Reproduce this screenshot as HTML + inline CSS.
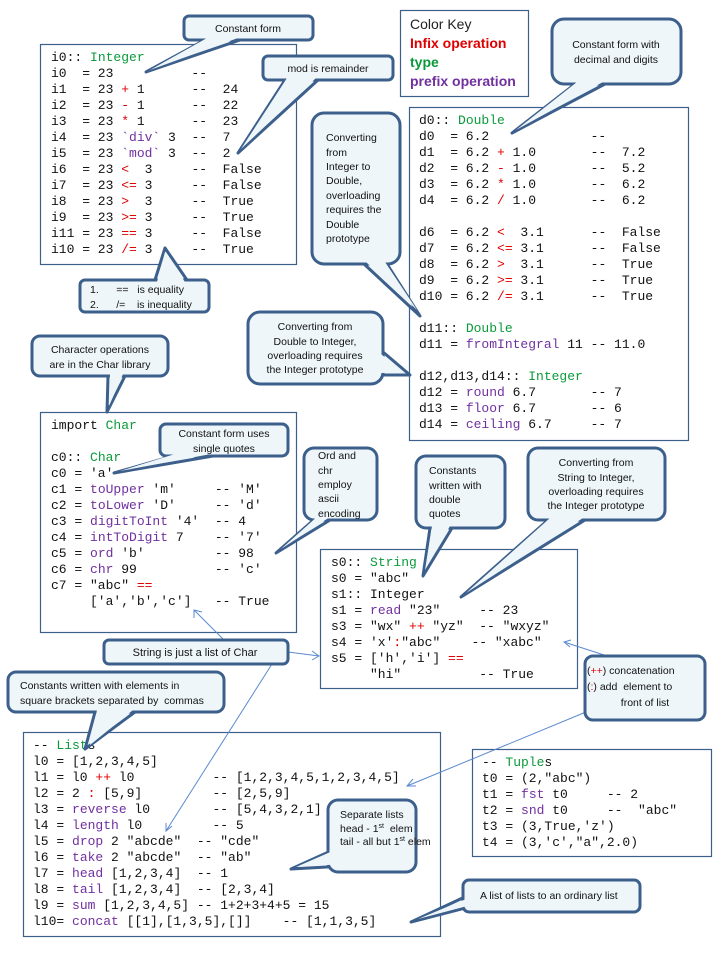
<!DOCTYPE html>
<html><head><meta charset="utf-8"><style>
html,body{margin:0;padding:0;background:#fff;}
svg{display:block}
text{white-space:pre}
.m{font-family:"Liberation Mono",monospace;font-size:13px;fill:#111;}
.s{font-family:"Liberation Sans",sans-serif;font-size:10.5px;fill:#111;}
.g{fill:#0a9a3a}.p{fill:#7030a0}.r{fill:#e00000}
.box{fill:#fff;stroke:#3c5f8c;stroke-width:1.2}
.co{fill:#eef6fa;stroke:#3c5f8c;stroke-width:3;stroke-linejoin:round}
.cf{fill:#eef6fa;stroke:none}
.thin{stroke:#5b8ad0;stroke-width:1;fill:none}
</style></head><body>
<svg width="720" height="960" xmlns="http://www.w3.org/2000/svg">
<rect class="box" x="40.5" y="44.5" width="256" height="220"/>
<rect class="box" x="409.5" y="107.5" width="279" height="333"/>
<rect class="box" x="40.5" y="412.5" width="256" height="220"/>
<rect class="box" x="320.5" y="549.5" width="257" height="139"/>
<rect class="box" x="23.5" y="732.5" width="417" height="204"/>
<rect class="box" x="472.5" y="749.5" width="239" height="107"/>
<rect class="box" x="400.5" y="10.5" width="128" height="86"/>

<g class="m">
<text x="51" y="61">i0:: <tspan class="g">Integer</tspan></text>
<text x="51" y="77">i0  = 23          --</text>
<text x="51" y="93">i1  = 23 <tspan class="r">+</tspan> 1      --  24</text>
<text x="51" y="109">i2  = 23 <tspan class="r">-</tspan> 1      --  22</text>
<text x="51" y="125">i3  = 23 <tspan class="r">*</tspan> 1      --  23</text>
<text x="51" y="141">i4  = 23 <tspan class="p">`div`</tspan> 3  --  7</text>
<text x="51" y="157">i5  = 23 <tspan class="p">`mod`</tspan> 3  --  2</text>
<text x="51" y="173">i6  = 23 <tspan class="r">&lt;</tspan>  3     --  False</text>
<text x="51" y="189">i7  = 23 <tspan class="r">&lt;=</tspan> 3     --  False</text>
<text x="51" y="205">i8  = 23 <tspan class="r">&gt;</tspan>  3     --  True</text>
<text x="51" y="221">i9  = 23 <tspan class="r">&gt;=</tspan> 3     --  True</text>
<text x="51" y="237">i11 = 23 <tspan class="r">==</tspan> 3     --  False</text>
<text x="51" y="253">i10 = 23 <tspan class="r">/=</tspan> 3     --  True</text>
</g>

<g class="m">
<text x="419" y="124">d0:: <tspan class="g">Double</tspan></text>
<text x="419" y="140">d0  = 6.2             --</text>
<text x="419" y="156">d1  = 6.2 <tspan class="r">+</tspan> 1.0       --  7.2</text>
<text x="419" y="172">d2  = 6.2 <tspan class="r">-</tspan> 1.0       --  5.2</text>
<text x="419" y="188">d3  = 6.2 <tspan class="r">*</tspan> 1.0       --  6.2</text>
<text x="419" y="204">d4  = 6.2 <tspan class="r">/</tspan> 1.0       --  6.2</text>
<text x="419" y="236">d6  = 6.2 <tspan class="r">&lt;</tspan>  3.1      --  False</text>
<text x="419" y="252">d7  = 6.2 <tspan class="r">&lt;=</tspan> 3.1      --  False</text>
<text x="419" y="268">d8  = 6.2 <tspan class="r">&gt;</tspan>  3.1      --  True</text>
<text x="419" y="284">d9  = 6.2 <tspan class="r">&gt;=</tspan> 3.1      --  True</text>
<text x="419" y="300">d10 = 6.2 <tspan class="r">/=</tspan> 3.1      --  True</text>
<text x="419" y="332">d11:: <tspan class="g">Double</tspan></text>
<text x="419" y="348">d11 = <tspan class="p">fromIntegral</tspan> 11 -- 11.0</text>
<text x="419" y="380">d12,d13,d14:: <tspan class="g">Integer</tspan></text>
<text x="419" y="396">d12 = <tspan class="p">round</tspan> 6.7       -- 7</text>
<text x="419" y="412">d13 = <tspan class="p">floor</tspan> 6.7       -- 6</text>
<text x="419" y="428">d14 = <tspan class="p">ceiling</tspan> 6.7     -- 7</text>
</g>

<g class="m">
<text x="51" y="429">import <tspan class="g">Char</tspan></text>
<text x="51" y="461">c0:: <tspan class="g">Char</tspan></text>
<text x="51" y="477">c0 = 'a'</text>
<text x="51" y="493">c1 = <tspan class="p">toUpper</tspan> 'm'     -- 'M'</text>
<text x="51" y="509">c2 = <tspan class="p">toLower</tspan> 'D'     -- 'd'</text>
<text x="51" y="525">c3 = <tspan class="p">digitToInt</tspan> '4'  -- 4</text>
<text x="51" y="541">c4 = <tspan class="p">intToDigit</tspan> 7    -- '7'</text>
<text x="51" y="557">c5 = <tspan class="p">ord</tspan> 'b'         -- 98</text>
<text x="51" y="573">c6 = <tspan class="p">chr</tspan> 99          -- 'c'</text>
<text x="51" y="589">c7 = "abc" <tspan class="r">==</tspan></text>
<text x="51" y="605">     ['a','b','c']   -- True</text>
</g>

<g class="m">
<text x="331" y="566">s0:: <tspan class="g">String</tspan></text>
<text x="331" y="582">s0 = "abc"</text>
<text x="331" y="598">s1:: Integer</text>
<text x="331" y="614">s1 = <tspan class="p">read</tspan> "23"     -- 23</text>
<text x="331" y="630">s3 = "wx" <tspan class="r">++</tspan> "yz"  -- "wxyz"</text>
<text x="331" y="646">s4 = 'x'<tspan class="r">:</tspan>"abc"    -- "xabc"</text>
<text x="331" y="662">s5 = ['h','i'] <tspan class="r">==</tspan></text>
<text x="331" y="678">     "hi"          -- True</text>
</g>

<g class="m">
<text x="33" y="749">-- <tspan class="g">List</tspan>s</text>
<text x="33" y="765">l0 = [1,2,3,4,5]</text>
<text x="33" y="781">l1 = l0 <tspan class="r">++</tspan> l0          -- [1,2,3,4,5,1,2,3,4,5]</text>
<text x="33" y="797">l2 = 2 <tspan class="r">:</tspan> [5,9]         -- [2,5,9]</text>
<text x="33" y="813">l3 = <tspan class="p">reverse</tspan> l0        -- [5,4,3,2,1]</text>
<text x="33" y="829">l4 = <tspan class="p">length</tspan> l0         -- 5</text>
<text x="33" y="845">l5 = <tspan class="p">drop</tspan> 2 "abcde"  -- "cde"</text>
<text x="33" y="861">l6 = <tspan class="p">take</tspan> 2 "abcde"  -- "ab"</text>
<text x="33" y="877">l7 = <tspan class="p">head</tspan> [1,2,3,4]  -- 1</text>
<text x="33" y="893">l8 = <tspan class="p">tail</tspan> [1,2,3,4]  -- [2,3,4]</text>
<text x="33" y="909">l9 = <tspan class="p">sum</tspan> [1,2,3,4,5] -- 1+2+3+4+5 = 15</text>
<text x="33" y="925">l10= <tspan class="p">concat</tspan> [[1],[1,3,5],[]]    -- [1,1,3,5]</text>
</g>

<g class="m">
<text x="482" y="766">-- <tspan class="g">Tuple</tspan>s</text>
<text x="482" y="782">t0 = (2,"abc")</text>
<text x="482" y="798">t1 = <tspan class="p">fst</tspan> t0     -- 2</text>
<text x="482" y="814">t2 = <tspan class="p">snd</tspan> t0     --  "abc"</text>
<text x="482" y="830">t3 = (3,True,'z')</text>
<text x="482" y="846">t4 = (3,'c',"a",2.0)</text>
</g>

<g style="font-family:'Liberation Sans',sans-serif;font-size:14px">
<text x="410" y="29" fill="#222">Color Key</text>
<text x="410" y="48" fill="#e00000" font-weight="bold">Infix operation</text>
<text x="410" y="67" fill="#0a9a3a" font-weight="bold">type</text>
<text x="410" y="86" fill="#7030a0" font-weight="bold">prefix operation</text>
</g>

<g class="thin">
<line x1="224" y1="640" x2="194" y2="610"/><polyline points="194,618 194,610 202,612"/>
<line x1="288" y1="652" x2="319" y2="656"/><polyline points="312,651 319,656 312,660"/>
<line x1="272" y1="664" x2="166" y2="831"/><polyline points="166,823 166,831 172,826"/>
<line x1="604" y1="655" x2="564" y2="642"/><polyline points="571,640 564,642 570,647"/>
<line x1="586" y1="712" x2="407" y2="786"/><polyline points="413,779 407,786 416,786"/>
</g>

<g>
<polygon class="co" points="205,40 240,40 146,72"/><rect class="co" x="184" y="16" width="129" height="24" rx="5"/><polygon class="cf" points="207,38 238,38 150,70"/>
<text class="s" x="248" y="32" text-anchor="middle">Constant form</text>
<polygon class="co" points="285,80 318,80 238,153"/><rect class="co" x="263" y="56" width="130" height="24" rx="5"/><polygon class="cf" points="287,78 316,78 241,149"/>
<text class="s" x="328" y="72" text-anchor="middle">mod is remainder</text>
<polygon class="co" points="364,264 387,264 420,316"/><rect class="co" x="312" y="113" width="88" height="151" rx="12"/><polygon class="cf" points="366,262 385,262 417,310"/>
<text class="s" x="326" y="141">Converting</text><text class="s" x="326" y="156">from</text><text class="s" x="326" y="170">Integer to</text><text class="s" x="326" y="184">Double,</text><text class="s" x="326" y="199">overloading</text><text class="s" x="326" y="213">requires the</text><text class="s" x="326" y="228">Double</text><text class="s" x="326" y="242">prototype</text>
<polygon class="co" points="155,280 187,280 165,248"/><rect class="co" x="80" y="280" width="129" height="32" rx="5"/><polygon class="cf" points="157,282 185,282 165,252"/>
<text class="s" x="90" y="293">1.      ==   is equality</text><text class="s" x="90" y="308">2.      /=    is inequality</text>
<polygon class="co" points="575,84 605,84 512,133"/><rect class="co" x="552" y="19" width="129" height="65" rx="12"/><polygon class="cf" points="577,82 603,82 516,130"/>
<text class="s" x="616" y="48" text-anchor="middle">Constant form with</text><text class="s" x="616" y="63" text-anchor="middle">decimal and digits</text>
<polygon class="co" points="383,352 383,375 410,375"/><rect class="co" x="248" y="312" width="135" height="72" rx="12"/><polygon class="cf" points="381,354 381,373 404,373"/>
<text class="s" x="315" y="330" text-anchor="middle">Converting from</text><text class="s" x="315" y="345" text-anchor="middle">Double to Integer,</text><text class="s" x="315" y="359" text-anchor="middle">overloading requires</text><text class="s" x="315" y="373" text-anchor="middle">the Integer prototype</text>
<polygon class="co" points="108,376 125,376 107,412"/><rect class="co" x="32" y="336" width="136" height="40" rx="8"/><polygon class="cf" points="110,374 123,374 109,406"/>
<text class="s" x="100" y="353" text-anchor="middle">Character operations</text><text class="s" x="100" y="368" text-anchor="middle">are in the Char library</text>
<polygon class="co" points="173,456 213,456 114,473"/><rect class="co" x="160" y="424" width="128" height="32" rx="6"/><polygon class="cf" points="175,454 211,454 120,471"/>
<text class="s" x="224" y="437" text-anchor="middle">Constant form uses</text><text class="s" x="224" y="452" text-anchor="middle">single quotes</text>
<polygon class="co" points="317,517 335,517 276,553"/><rect class="co" x="304" y="448" width="73" height="72" rx="10"/><polygon class="cf" points="319,515 333,515 281,549"/>
<text class="s" x="318" y="459">Ord and</text><text class="s" x="318" y="474">chr</text><text class="s" x="318" y="488">employ</text><text class="s" x="318" y="502">ascii</text><text class="s" x="318" y="517">encoding</text>
<polygon class="co" points="430,528 452,528 423,576"/><rect class="co" x="416" y="456" width="89" height="72" rx="10"/><polygon class="cf" points="432,526 450,526 425,570"/>
<text class="s" x="429" y="474">Constants</text><text class="s" x="429" y="489">written with</text><text class="s" x="429" y="503">double</text><text class="s" x="429" y="517">quotes</text>
<polygon class="co" points="548,520 585,520 461,597"/><rect class="co" x="528" y="448" width="137" height="72" rx="10"/><polygon class="cf" points="550,518 583,518 466,593"/>
<text class="s" x="596" y="466" text-anchor="middle">Converting from</text><text class="s" x="596" y="481" text-anchor="middle">String to Integer,</text><text class="s" x="596" y="495" text-anchor="middle">overloading requires</text><text class="s" x="596" y="509" text-anchor="middle">the Integer prototype</text>
<rect class="co" x="104" y="640" width="184" height="24" rx="5"/>
<text class="s" x="195" y="656" text-anchor="middle" style="font-size:11px">String is just a list of Char</text>
<polygon class="co" points="95,712 135,712 85,749"/><rect class="co" x="8" y="672" width="216" height="40" rx="8"/><polygon class="cf" points="97,710 133,710 90,745"/>
<text class="s" x="20" y="689">Constants written with elements in</text><text class="s" x="20" y="704">square brackets separated by  commas</text>
<rect class="co" x="585" y="656" width="120" height="64" rx="8"/>
<text class="s" x="587" y="674">(<tspan class="r">++</tspan>) concatenation</text><text class="s" x="587" y="690">(<tspan class="r">:</tspan>) add  element to</text><text class="s" x="645" y="706" text-anchor="middle">front of list</text>
<polygon class="co" points="333,850 345,866 291,869"/><rect class="co" x="328" y="800" width="88" height="72" rx="10"/><polygon class="cf" points="335,850 343,864 296,867"/>
<text class="s" x="340" y="818">Separate lists</text><text class="s" x="340" y="832">head - 1<tspan font-size="7" dy="-4">st</tspan><tspan dy="4">  elem</tspan></text><text class="s" x="340" y="845">tail - all but 1<tspan font-size="7" dy="-4">st</tspan><tspan dy="4"> elem</tspan></text>
<polygon class="co" points="469,895 469,907 411,922"/><rect class="co" x="463" y="880" width="177" height="32" rx="6"/><polygon class="cf" points="471,897 471,905 418,919"/>
<text class="s" x="480" y="899">A list of lists to an ordinary list</text>
</g>
</svg>
</body></html>
